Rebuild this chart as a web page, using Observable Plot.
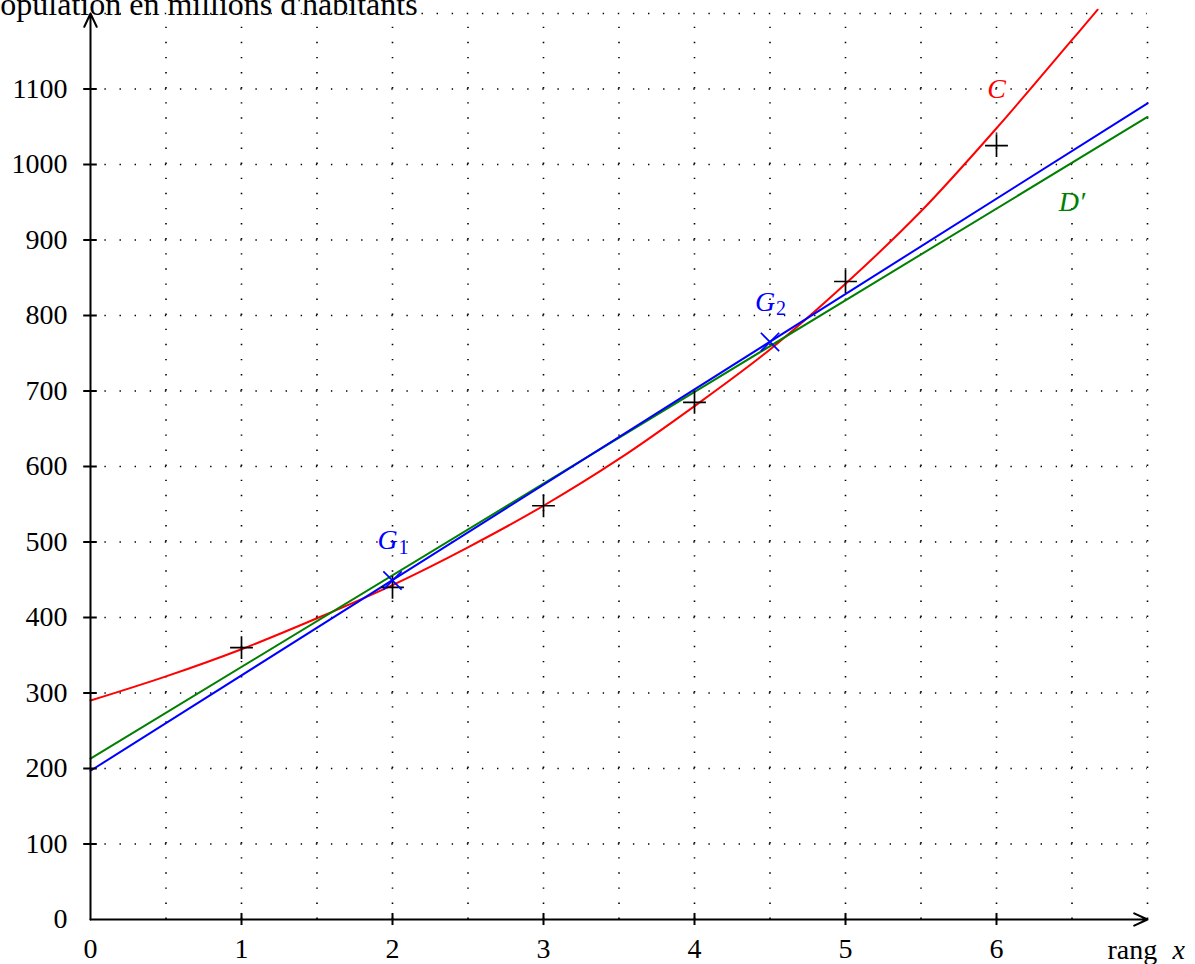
<!DOCTYPE html>
<html>
<head>
<meta charset="utf-8">
<script src="https://cdn.jsdelivr.net/npm/d3@7"></script>
<script src="https://cdn.jsdelivr.net/npm/@observablehq/plot@0.6"></script>
<style>
  html, body { margin: 0; padding: 0; background: #fff; }
  svg { display: block; }
</style>
</head>
<body>
<div id="chart"></div>
<script>
// Data
const rangX = [1, 2, 3, 4, 5, 6];
const population = [360, 440, 548, 685, 845, 1025];

const gNames = ["1", "2"];
const gX = [2, 4.5];
const gY = [449, 765];

// curve C
const curveX = [0, 0.5, 1, 1.5, 2, 2.5, 3, 3.5, 4, 4.5, 5, 5.5, 6, 6.5, 6.67];
const curveY = [290, 322, 358, 399, 443, 493, 548, 610, 680, 755, 842, 938, 1048, 1165, 1205];

// straight lines (endpoints)
const lineX = [0, 7];
const blueY = [197, 1081];
const greenY = [213, 1063];

const xTicks = [0, 1, 2, 3, 4, 5, 6];
const yTicks = [0, 100, 200, 300, 400, 500, 600, 700, 800, 900, 1000, 1100];
const xGrid = [0.5, 1, 1.5, 2, 2.5, 3, 3.5, 4, 4.5, 5, 5.5, 6, 6.5, 7];
const yGrid = [100, 200, 300, 400, 500, 600, 700, 800, 900, 1000, 1100, 1200];

const font = "'Liberation Serif', 'DejaVu Serif', serif";
const fs = 28;

const curve = curveX.map((x, i) => ({x, y: curveY[i]}));
const blue = lineX.map((x, i) => ({x, y: blueY[i]}));
const green = lineX.map((x, i) => ({x, y: greenY[i]}));
const pts = rangX.map((x, i) => ({x, y: population[i]}));
const gs = gNames.map((n, i) => ({n, x: gX[i], y: gY[i]}));

const chart = Plot.plot({
  width: 1195,
  height: 964,
  marginLeft: 90,
  marginRight: 48,
  marginTop: 13,
  marginBottom: 45,
  x: {domain: [0, 7], axis: null},
  y: {domain: [0, 1200], axis: null},
  style: {fontFamily: font, overflow: "visible"},
  marks: [
    // dotted grid
    Plot.ruleX(xGrid, {y1: 0, y2: 1200, stroke: "black", strokeWidth: 1.6, strokeDasharray: "1.4,13.7", strokeDashoffset: 0}),
    Plot.ruleY(yGrid, {x1: 0, x2: 7, stroke: "black", strokeWidth: 1.6, strokeDasharray: "1.4,13.7", strokeDashoffset: -14.4}),
    // curves
    Plot.line(curve, {x: "x", y: "y", stroke: "red", strokeWidth: 2, curve: "catmull-rom"}),
    Plot.line(green, {x: "x", y: "y", stroke: "green", strokeWidth: 2}),
    Plot.line(blue, {x: "x", y: "y", stroke: "blue", strokeWidth: 2}),
    // axes
    Plot.arrow([{x1: 0, y1: 0, x2: 7, y2: 0}], {x1: "x1", y1: "y1", x2: "x2", y2: "y2", stroke: "black", strokeWidth: 2, headLength: 11, headAngle: 50}),
    Plot.arrow([{x1: 0, y1: 0, x2: 0, y2: 1200}], {x1: "x1", y1: "y1", x2: "x2", y2: "y2", stroke: "black", strokeWidth: 2, headLength: 11, headAngle: 50}),
    // ticks
    Plot.ruleX(xTicks.filter(d => d > 0), {y1: -8, y2: 8, stroke: "black", strokeWidth: 2}),
    Plot.ruleY(yTicks.filter(d => d > 0), {x1: -0.045, x2: 0.045, stroke: "black", strokeWidth: 2}),
    // tick labels
    Plot.text(xTicks, {x: d => d, y: 0, text: d => String(d), dy: 30, fontSize: fs, fill: "black"}),
    Plot.text(yTicks, {x: 0, y: d => d, text: d => String(d), dx: -23, textAnchor: "end", fontSize: fs, fill: "black"}),
    // data points
    Plot.dot(pts, {x: "x", y: "y", symbol: "plus", r: 7.4, stroke: "black", strokeWidth: 1.7}),
    Plot.dot(gs, {x: "x", y: "y", symbol: "times", r: 8.4, stroke: "blue", strokeWidth: 1.7}),
    // labels
    Plot.text(gs, {x: "x", y: "y", text: () => "G", dx: -5, dy: -40, fontSize: fs, fontStyle: "italic", fill: "blue"}),
    Plot.text(gs, {x: "x", y: "y", text: "n", dx: 11, dy: -33, fontSize: 20, fill: "blue"}),
    Plot.text(["C"], {x: 6, y: 1100, text: d => d, fontSize: fs, fontStyle: "italic", fill: "red"}),
    Plot.text(["D′"], {x: 6.5, y: 950, text: d => d, fontSize: fs, fontStyle: "italic", fill: "green"}),
    Plot.text(["Population en millions d'habitants"], {x: 0, y: 1200, text: d => d, dx: -108, dy: -9, textAnchor: "start", fontSize: 32, fill: "black"}),
    Plot.text(["rang"], {x: 7, y: 0, text: d => d, dx: -40, dy: 31, textAnchor: "start", fontSize: fs, fill: "black"}),
    Plot.text(["x"], {x: 7, y: 0, text: d => d, dx: 25, dy: 31, textAnchor: "start", fontSize: fs, fontStyle: "italic", fill: "black"})
  ]
});
document.getElementById("chart").appendChild(chart);
</script>
</body>
</html>
